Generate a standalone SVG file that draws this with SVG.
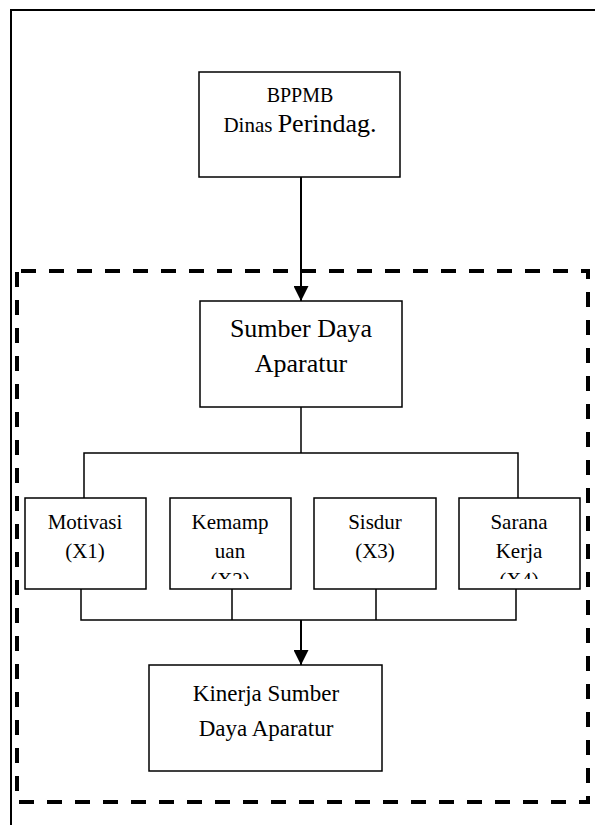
<svg xmlns="http://www.w3.org/2000/svg" width="595" height="825" viewBox="0 0 595 825">
<style>
.box{fill:#fff;stroke:#000;stroke-width:1.5}
.t{font-family:"Liberation Serif","Times New Roman",serif;fill:#000;text-anchor:middle}
.s{font-size:21px}
.b{font-size:26px}
.k{font-size:23px}
.c{fill:none;stroke:#000;stroke-width:1.5}
.a{fill:none;stroke:#000;stroke-width:2}
</style>
<defs>
<marker id="arr" viewBox="0 0 10 10" refX="10" refY="5" markerWidth="7.5" markerHeight="7.5" markerUnits="strokeWidth" orient="auto">
<path d="M0,0 L10,5 L0,10 z" fill="#000"/>
</marker>
<clipPath id="c2"><rect x="170" y="498" width="121" height="81"/></clipPath>
<clipPath id="c4"><rect x="459" y="498" width="121" height="81"/></clipPath>
</defs>
<g id="frame">
<path d="M11,826 L11,10 L596,10" fill="none" stroke="#000" stroke-width="2"/>
<rect x="17" y="271" width="571" height="531" fill="none" stroke="#000" stroke-width="4" stroke-dasharray="15,13" stroke-dashoffset="-4"/>
</g>
<g id="connectors">
<line class="a" x1="301" y1="177" x2="301" y2="301" marker-end="url(#arr)"/>
<path class="c" d="M301,407 V453 M84,498 V453 H518 V498"/>
<path class="c" d="M81,589 V620 H516 V589 M232,589 V620 M376,589 V620"/>
<line class="a" x1="301" y1="620" x2="301" y2="665" marker-end="url(#arr)"/>
</g>
<g id="bppmb">
<rect class="box" x="199" y="72" width="201" height="105"/>
<text class="t" x="300" y="102" font-size="20">BPPMB</text>
<text class="t" x="300" y="132"><tspan font-size="21">Dinas </tspan><tspan font-size="26">Perindag.</tspan></text>
</g>
<g id="sumber">
<rect class="box" x="200" y="301" width="202" height="106"/>
<text class="t b" x="301" y="337">Sumber Daya</text>
<text class="t b" x="301" y="372">Aparatur</text>
</g>
<g id="motivasi">
<rect class="box" x="25" y="498" width="121" height="91"/>
<text class="t s" x="85" y="529">Motivasi</text>
<text class="t s" x="85" y="558">(X1)</text>
</g>
<g id="kemampuan">
<rect class="box" x="170" y="498" width="121" height="91"/>
<g clip-path="url(#c2)">
<text class="t s" x="230" y="529">Kemamp</text>
<text class="t s" x="230" y="558">uan</text>
<text class="t s" x="230" y="587">(X2)</text>
</g>
</g>
<g id="sisdur">
<rect class="box" x="314" y="498" width="122" height="91"/>
<text class="t s" x="375" y="529">Sisdur</text>
<text class="t s" x="375" y="558">(X3)</text>
</g>
<g id="sarana">
<rect class="box" x="459" y="498" width="121" height="91"/>
<g clip-path="url(#c4)">
<text class="t s" x="519" y="529">Sarana</text>
<text class="t s" x="519" y="558">Kerja</text>
<text class="t s" x="519" y="587">(X4)</text>
</g>
</g>
<g id="kinerja">
<rect class="box" x="149" y="665" width="233" height="106"/>
<text class="t k" x="266" y="701">Kinerja Sumber</text>
<text class="t k" x="266" y="736">Daya Aparatur</text>
</g>
</svg>
